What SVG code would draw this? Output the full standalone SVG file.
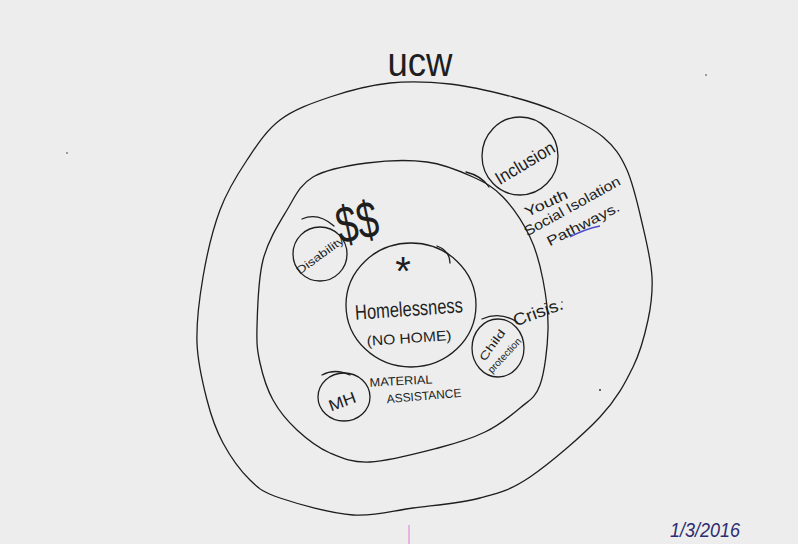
<svg xmlns="http://www.w3.org/2000/svg" width="798" height="544" viewBox="0 0 798 544">
<style>
.c{fill:none;stroke:#1e1e1e;stroke-width:1.3;stroke-linejoin:round;stroke-linecap:round}
.t{font-family:"Liberation Sans",Arial,sans-serif;fill:#1e1e1e}
.d{fill:#333}
</style>
<rect width="798" height="544" fill="#ededed"/>
<g id="ucw">
<path class="c" d="M390,83 C410,80.8 429.5,81.7 450,84 S494.7,92.2 513,97 S545,106.3 560,113 S591.8,127.5 603,137 S620.3,155 627,170 S638.8,209.2 643,227 S651.2,261.5 652,277 S651.2,305 648,320 S641,350.8 633,367 S617.2,398.7 600,417 S550,463.5 530,477 S499.5,492.8 480,498 S434.2,505.2 413,508 S375.2,516.7 353,515 S297.2,503.8 280,498 S259.5,489.2 250,480 S230.2,456.3 223,443 S211.3,416.7 207,400 S197.7,363.5 197,343 S199.2,299.2 203,277 S212.7,229.5 220,210 S237,175 247,160 S266.2,130.5 280,120 S311.7,103.2 330,97 S370,85.2 390,83 Z"/>
<text class="t" x="420" y="76" font-size="40" text-anchor="middle" textLength="65" lengthAdjust="spacingAndGlyphs">ucw</text>
</g>
<g id="inner">
<path class="c" d="M367,163 C386,160.5 409.3,159.7 427,162 S460.3,171.2 473,177 S493.5,187 503,197 S523.3,223.2 530,237 S540,264.5 543,280 S548.5,312.5 548,330 S544.7,372 540,385 S529.2,400.2 520,408 S498.7,425.3 485,432 S457.2,443 438,448 S388,461.2 370,462 S342.2,458.3 330,453 S306.5,438.8 297,430 S279.2,411.2 273,400 S262.7,375.2 260,363 S256.5,344.2 257,327 S258,279.5 263,260 S278.7,223.8 287,210 S299.7,184.8 313,177 S348,165.5 367,163 Z"/>
<path class="c" d="M466,172 Q482,176 489,187"/>
</g>
<g id="homelessness">
<ellipse class="c" cx="411" cy="305" rx="65" ry="62"/>
<path class="c" d="M437,246 Q450,251 450,263"/>
<text class="t" x="403" y="285" font-size="40" text-anchor="middle">*</text>
<text class="t" x="409" y="316" font-size="21" text-anchor="middle" textLength="108" lengthAdjust="spacingAndGlyphs" transform="rotate(-4 409 310)">Homelessness</text>
<text class="t" x="409" y="343" font-size="14" text-anchor="middle" textLength="85" lengthAdjust="spacingAndGlyphs" transform="rotate(-4 409 338)">(NO HOME)</text>
</g>
<g id="disability">
<ellipse class="c" cx="320" cy="254" rx="27" ry="27"/>
<path class="c" d="M302,219 Q318,212 334,226"/>
<text class="t" x="320" y="259" font-size="11" text-anchor="middle" textLength="56" lengthAdjust="spacingAndGlyphs" transform="rotate(-36 320 255)">Disability</text>
<text class="t" x="357" y="240" font-size="52" text-anchor="middle" textLength="42" lengthAdjust="spacingAndGlyphs" transform="rotate(-12 357 222)">$$</text>
</g>
<g id="inclusion">
<ellipse class="c" cx="520" cy="156" rx="38" ry="39"/>
<text class="t" x="525" y="169" font-size="18" text-anchor="middle" textLength="66" lengthAdjust="spacingAndGlyphs" transform="rotate(-31 525 163)">Inclusion</text>
<text class="t" x="546" y="208" font-size="14" text-anchor="middle" textLength="46" lengthAdjust="spacingAndGlyphs" transform="rotate(-25 546 203)">Youth</text>
<text class="t" x="572" y="211" font-size="14" text-anchor="middle" textLength="108" lengthAdjust="spacingAndGlyphs" transform="rotate(-29 572 206)">Social Isolation</text>
<text class="t" x="583" y="229" font-size="14" text-anchor="middle" textLength="80" lengthAdjust="spacingAndGlyphs" transform="rotate(-27 583 224)">Pathways.</text>
<path d="M570,237 Q585,229 600,226" fill="none" stroke="#5048c8" stroke-width="1.3"/>
</g>
<g id="child">
<ellipse class="c" cx="498" cy="348" rx="26" ry="29"/>
<path class="c" d="M482,319 Q500,311 517,322"/>
<text class="t" x="492" y="349" font-size="11" text-anchor="middle" textLength="36" lengthAdjust="spacingAndGlyphs" transform="rotate(-54 492 345)">Child</text>
<text class="t" x="504" y="359" font-size="10" text-anchor="middle" textLength="44" lengthAdjust="spacingAndGlyphs" transform="rotate(-47 504 355)">protection</text>
<text class="t" x="538" y="318" font-size="17" text-anchor="middle" textLength="52" lengthAdjust="spacingAndGlyphs" transform="rotate(-20 538 312)">Crisis.</text>
</g>
<g id="mh">
<ellipse class="c" cx="344" cy="397" rx="26" ry="24"/>
<path class="c" d="M322,375 Q335,368 350,375"/>
<text class="t" x="342" y="407" font-size="16" text-anchor="middle" textLength="28" lengthAdjust="spacingAndGlyphs" transform="rotate(-20 342 401)">MH</text>
<text class="t" x="401" y="385" font-size="12" text-anchor="middle" textLength="63" lengthAdjust="spacingAndGlyphs" transform="rotate(-3 401 381)">MATERIAL</text>
<text class="t" x="424" y="400" font-size="12" text-anchor="middle" textLength="75" lengthAdjust="spacingAndGlyphs" transform="rotate(-5 424 396)">ASSISTANCE</text>
</g>
<g id="date">
<text class="t" x="705" y="537" font-size="20" font-style="italic" text-anchor="middle" textLength="70" lengthAdjust="spacingAndGlyphs" style="fill:#2c2c70">1/3/2016</text>
</g>
<g id="marks">
<circle class="d" cx="706" cy="75" r="0.8"/>
<circle class="d" cx="600" cy="390" r="1"/>
<circle class="d" cx="562" cy="302" r="0.8"/>
<circle class="d" cx="67" cy="153" r="0.8"/>
<line x1="409" y1="525" x2="409" y2="544" stroke="#e6b4e0" stroke-width="2"/>
</g>
<g id="connectors"></g>
</svg>
